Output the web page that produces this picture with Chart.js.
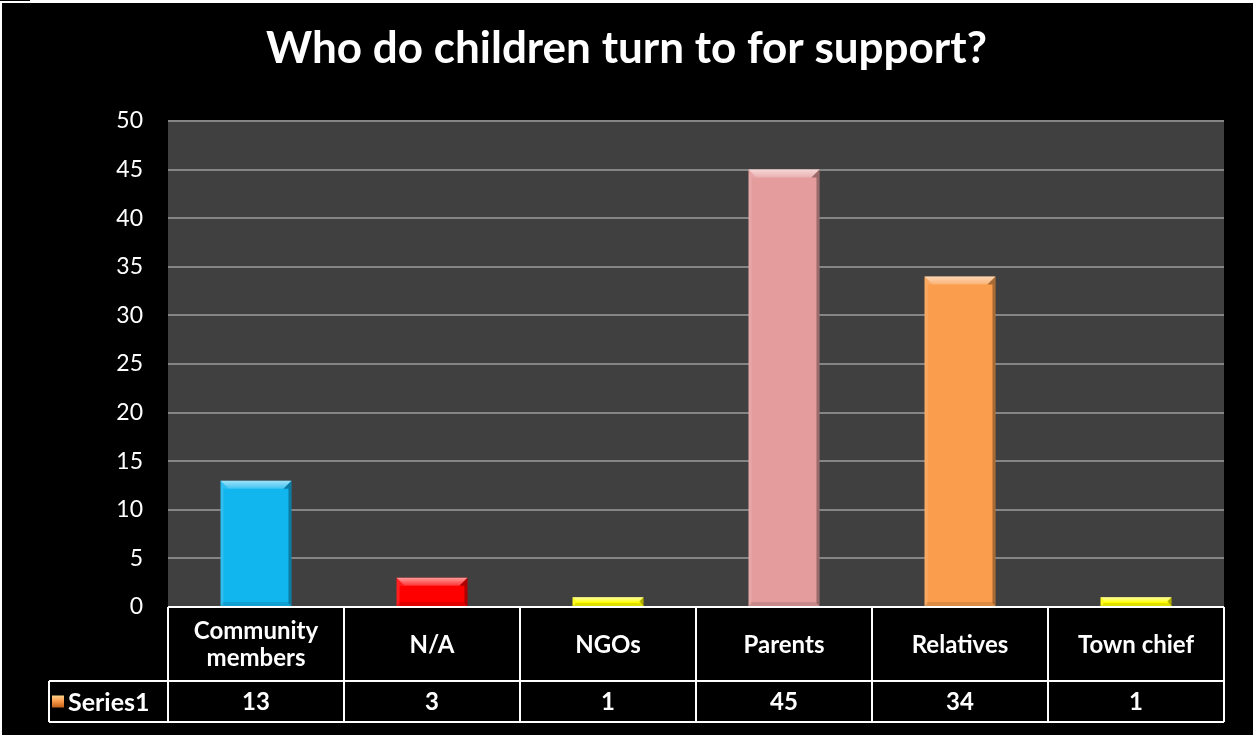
<!DOCTYPE html>
<html>
<head>
<meta charset="utf-8">
<script src="https://cdn.jsdelivr.net/npm/chart.js@4/dist/chart.umd.min.js"></script>
<style>
  html, body { margin: 0; padding: 0; background: #ffffff; }
  #wrap { position: absolute; left: 0; top: 0; width: 1253px; height: 735px; }
  canvas { display: block; }
</style>
</head>
<body>
<div id="wrap"><canvas id="chart" width="1253" height="735"></canvas></div>
<script>
// Survey answers: who children turn to for support
const chartTitle = 'Who do children turn to for support?';
const categories = [['Community', 'members'], 'N/A', 'NGOs', 'Parents', 'Relatives', 'Town chief'];
const seriesName = 'Series1';
const values = [13, 3, 1, 45, 34, 1];
const yMin = 0;
const yMax = 50;
const yStep = 5;

const barColors = ['#12B6EE', '#FF0000', '#FFFF00', '#E59C9C', '#FA9E4E', '#FFFF00'];
const FONT = "Lato, 'Open Sans', sans-serif";

// Black frame with the thin white page edge on top/left
const backdrop = {
  id: 'backdrop',
  beforeDraw(chart) {
    const { ctx, width, height, chartArea } = chart;
    ctx.save();
    ctx.fillStyle = '#ffffff';
    ctx.fillRect(0, 0, width, height);
    ctx.fillStyle = '#000000';
    ctx.fillRect(2, 3, width - 2, height - 3);
    ctx.fillRect(0, 0, 30, 1);
    ctx.fillStyle = '#404040';
    ctx.fillRect(chartArea.left, chartArea.top, chartArea.right - chartArea.left, chartArea.bottom - chartArea.top);
    ctx.restore();
  }
};

// Bevelled look on each bar
function bevel(ctx, left, top, right, bottom) {
  const h = bottom - top, w = right - left;
  if (h <= 0) return;
  const b = Math.min(8, h / 2, w / 2);
  const s = Math.min(3, w / 4);
  ctx.save();
  // top facet
  const g = ctx.createLinearGradient(0, top, 0, top + b);
  g.addColorStop(0, 'rgba(255,255,255,0.6)');
  g.addColorStop(1, 'rgba(255,255,255,0.2)');
  ctx.fillStyle = g;
  ctx.beginPath();
  ctx.moveTo(left, top); ctx.lineTo(right, top);
  ctx.lineTo(right - b, top + b); ctx.lineTo(left + b, top + b);
  ctx.closePath(); ctx.fill();
  // left facet
  ctx.fillStyle = 'rgba(255,255,255,0.12)';
  ctx.beginPath();
  ctx.moveTo(left, top); ctx.lineTo(left + b, top + b);
  ctx.lineTo(left + s, top + b); ctx.lineTo(left + s, bottom); ctx.lineTo(left, bottom);
  ctx.closePath(); ctx.fill();
  // right facet
  ctx.fillStyle = 'rgba(0,0,0,0.32)';
  ctx.beginPath();
  ctx.moveTo(right, top); ctx.lineTo(right, bottom);
  ctx.lineTo(right - s, bottom - Math.min(s, h / 2)); ctx.lineTo(right - s, top + b); ctx.lineTo(right - b, top + b);
  ctx.closePath(); ctx.fill();
  // bottom facet
  const bb = Math.min(4, h / 3);
  ctx.fillStyle = 'rgba(0,0,0,0.12)';
  ctx.beginPath();
  ctx.moveTo(left, bottom); ctx.lineTo(right, bottom);
  ctx.lineTo(right - s, bottom - bb); ctx.lineTo(left + s, bottom - bb);
  ctx.closePath(); ctx.fill();
  ctx.restore();
}

const barBevel = {
  id: 'barBevel',
  afterDatasetsDraw(chart) {
    const meta = chart.getDatasetMeta(0);
    meta.data.forEach(bar => {
      const { x, y, base, width } = bar.getProps(['x', 'y', 'base', 'width'], true);
      bevel(chart.ctx, x - width / 2, Math.min(y, base), x + width / 2, Math.max(y, base));
    });
  }
};

// Data table under the plot: category row + value row
const dataTable = {
  id: 'dataTable',
  afterDraw(chart) {
    const { ctx, chartArea, scales } = chart;
    const xs = scales.x;
    const n = categories.length;
    const cw = (chartArea.right - chartArea.left) / n;
    const top = chartArea.bottom;
    const mid = top + 74;
    const bot = mid + 41;
    const leftCell = 49;
    ctx.save();
    ctx.strokeStyle = '#ffffff';
    ctx.lineWidth = 2;
    ctx.beginPath();
    ctx.moveTo(chartArea.left, top); ctx.lineTo(chartArea.right, top);
    ctx.moveTo(leftCell, mid); ctx.lineTo(chartArea.right, mid);
    ctx.moveTo(leftCell, bot); ctx.lineTo(chartArea.right, bot);
    ctx.moveTo(leftCell, mid); ctx.lineTo(leftCell, bot);
    for (let i = 0; i <= n; i++) {
      const xx = chartArea.left + i * cw;
      ctx.moveTo(xx, top); ctx.lineTo(xx, bot);
    }
    ctx.stroke();

    ctx.fillStyle = '#ffffff';
    ctx.font = 'bold 24px ' + FONT;
    ctx.textAlign = 'center';
    ctx.textBaseline = 'middle';
    categories.forEach((c, i) => {
      const cx = xs.getPixelForValue(i);
      const lines = Array.isArray(c) ? c : [c];
      const lh = 27;
      const y0 = (top + mid) / 2 - (lines.length - 1) * lh / 2 + 1;
      lines.forEach((t, k) => ctx.fillText(t, cx, y0 + k * lh));
      ctx.fillText(String(values[i]), cx, (mid + bot) / 2 + 1);
    });

    // series key
    const kx = 52, ky = (mid + bot) / 2 - 6, ks = 12;
    const g = ctx.createLinearGradient(kx, ky, kx, ky + ks);
    g.addColorStop(0, '#FFD08A');
    g.addColorStop(0.5, '#F79646');
    g.addColorStop(1, '#C0601A');
    ctx.fillStyle = g;
    ctx.fillRect(kx, ky, ks, ks);
    ctx.fillStyle = '#ffffff';
    ctx.textAlign = 'left';
    ctx.font = 'bold 25px ' + FONT;
    ctx.fillText(seriesName, kx + ks + 4, (mid + bot) / 2 + 1);
    ctx.restore();
  }
};

new Chart(document.getElementById('chart'), {
  type: 'bar',
  data: {
    labels: categories,
    datasets: [{
      label: seriesName,
      data: values,
      backgroundColor: barColors,
      borderWidth: 0,
      barPercentage: 0.403,
      categoryPercentage: 1.0
    }]
  },
  options: {
    responsive: false,
    animation: false,
    devicePixelRatio: 1,
    layout: { padding: { top: 3, left: 0, right: 0, bottom: 0 } },
    plugins: {
      legend: { display: false },
      tooltip: { enabled: false },
      title: {
        display: true,
        text: chartTitle,
        color: '#ffffff',
        font: { family: FONT, size: 44, weight: 'bold', lineHeight: 1.2 },
        padding: { top: 19, bottom: 46.2 }
      }
    },
    scales: {
      x: {
        ticks: { display: false },
        grid: { display: false, drawTicks: false },
        border: { display: false },
        afterFit(scale) { scale.height = 128; }
      },
      y: {
        min: yMin,
        max: yMax,
        ticks: {
          stepSize: yStep,
          color: '#ffffff',
          padding: 25,
          font: { family: FONT, size: 23 }
        },
        grid: { color: '#858585', lineWidth: 2, drawTicks: false },
        border: { display: false },
        afterFit(scale) { scale.width = 168; }
      },
      // empty right-hand margin beside the plot
      yRight: {
        position: 'right',
        min: yMin,
        max: yMax,
        ticks: { display: false },
        grid: { display: false, drawTicks: false },
        border: { display: false },
        afterFit(scale) { scale.width = 29; }
      }
    }
  },
  plugins: [backdrop, barBevel, dataTable]
});
</script>
</body>
</html>
